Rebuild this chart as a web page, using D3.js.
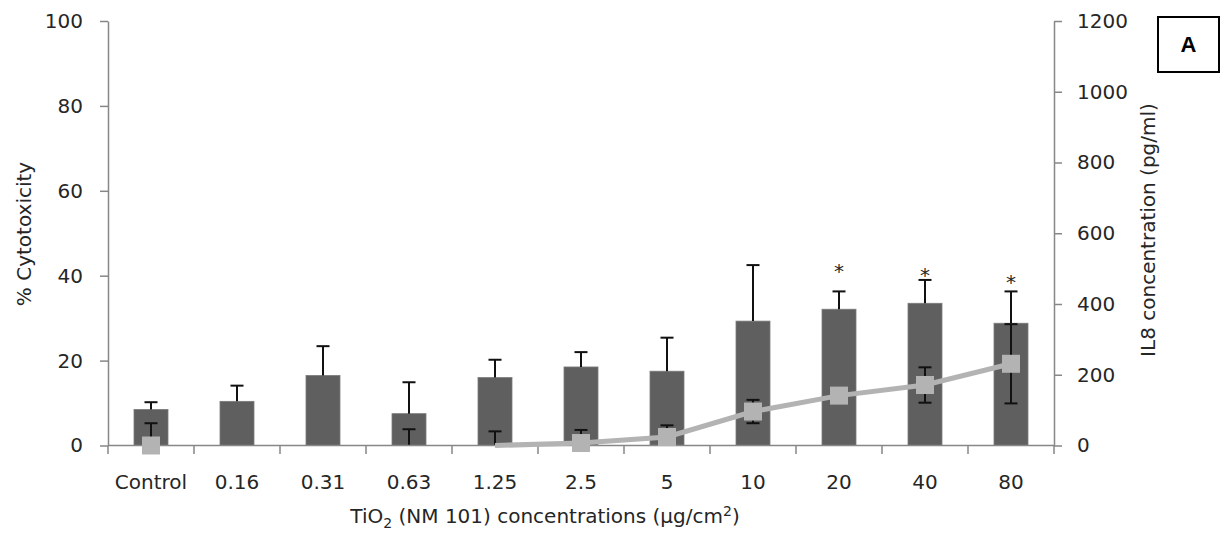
<!DOCTYPE html>
<html>
<head>
<meta charset="utf-8">
<script src="https://cdn.jsdelivr.net/npm/d3@7"></script>
<style>
  body { margin: 0; background: #fff; }
  text { font-family: "DejaVu Sans", Verdana, sans-serif; fill: #262626; }
</style>
</head>
<body>
<div id="chart"></div>
<script>
// categories (x axis)
var categories = ["Control", "0.16", "0.31", "0.63", "1.25", "2.5", "5", "10", "20", "40", "80"];

// % cytotoxicity bars and their SD
var cytotox = [8.5, 10.4, 16.5, 7.5, 16.0, 18.5, 17.5, 29.3, 32.1, 33.5, 28.8];
var cytotoxErr = [1.7, 3.7, 6.9, 7.4, 4.2, 3.5, 7.9, 13.2, 4.2, 5.5, 7.5];

// IL8 concentration (pg/ml) line, SD, and which points show a marker
var il8 = [0, null, null, null, 0, 7, 24, 96, 141, 171, 231];
var il8Err = [63, null, null, 46, 40, 37, 33, 33, 12, 50, 112];
var il8Marker = [true, false, false, false, false, true, true, true, true, true, true];

// significance stars (level in % cytotoxicity units)
var stars = [null, null, null, null, null, null, null, null, 42.2, 41.3, 39.6];

var leftTicks = [0, 20, 40, 60, 80, 100];
var rightTicks = [0, 200, 400, 600, 800, 1000, 1200];

var width = 1223, height = 540;
var plot = {left: 108, right: 1054, top: 21, bottom: 445.5};

var svg = d3.select("#chart")
  .append("svg")
  .attr("width", width)
  .attr("height", height);

var x = d3.scaleBand()
  .domain(categories)
  .range([plot.left, plot.right]);

var y = d3.scaleLinear()
  .domain([0, 100])
  .range([plot.bottom, plot.top]);

var y2 = d3.scaleLinear()
  .domain([0, 1200])
  .range([plot.bottom, plot.top]);

var barW = 34;
var axisColor = "#878787";

// bars
svg.append("g").selectAll("rect")
  .data(categories)
  .enter().append("rect")
  .attr("x", d => x(d) + x.bandwidth() / 2 - barW / 2)
  .attr("y", (d, i) => y(cytotox[i]))
  .attr("width", barW)
  .attr("height", (d, i) => y(0) - y(cytotox[i]))
  .style("fill", "#5f5f5f")
  .style("stroke", "#7a7a7a")
  .style("stroke-width", 0.8);

// bar error bars (upper only)
var eb = svg.append("g").style("stroke", "#111").style("stroke-width", 2);
categories.forEach(function(c, i) {
  var cx = x(c) + x.bandwidth() / 2;
  var top = y(cytotox[i] + cytotoxErr[i]);
  eb.append("line").attr("x1", cx).attr("x2", cx).attr("y1", y(cytotox[i])).attr("y2", top);
  eb.append("line").attr("x1", cx - 6.5).attr("x2", cx + 6.5).attr("y1", top).attr("y2", top);
});

// IL8 error bars
var eb2 = svg.append("g").style("stroke", "#111").style("stroke-width", 2);
categories.forEach(function(c, i) {
  if (il8Err[i] == null) return;
  var v = il8[i] == null ? 0 : il8[i];
  var cx = x(c) + x.bandwidth() / 2;
  var top = y2(v + il8Err[i]);
  var bot = y2(Math.max(0, v - il8Err[i]));
  eb2.append("line").attr("x1", cx).attr("x2", cx).attr("y1", bot).attr("y2", top);
  eb2.append("line").attr("x1", cx - 6.5).attr("x2", cx + 6.5).attr("y1", top).attr("y2", top);
  if (v - il8Err[i] > 0)
    eb2.append("line").attr("x1", cx - 6.5).attr("x2", cx + 6.5).attr("y1", bot).attr("y2", bot);
});

// axes
var yAxis = svg.append("g")
  .attr("transform", "translate(" + plot.left + ",0)")
  .call(d3.axisLeft(y).tickValues(leftTicks).tickSize(8).tickSizeOuter(0).tickPadding(17));

var yAxis2 = svg.append("g")
  .attr("transform", "translate(" + plot.right + ",0)")
  .call(d3.axisRight(y2).tickValues(rightTicks).tickFormat(d3.format("d"))
    .tickSize(8).tickSizeOuter(0).tickPadding(15));

var xAxis = svg.append("g")
  .attr("transform", "translate(0," + plot.bottom + ")")
  .call(d3.axisBottom(x).tickSize(0).tickSizeOuter(0).tickPadding(29));

// x boundary tick marks
svg.append("g").selectAll("line")
  .data(categories.concat(["end"]))
  .enter().append("line")
  .attr("x1", (d, i) => i < categories.length ? x(d) : plot.right)
  .attr("x2", (d, i) => i < categories.length ? x(d) : plot.right)
  .attr("y1", plot.bottom)
  .attr("y2", plot.bottom + 8.5)
  .style("stroke", axisColor)
  .style("stroke-width", 1.5);

[yAxis, yAxis2, xAxis].forEach(function(a) {
  a.selectAll(".domain").style("stroke", axisColor).style("stroke-width", 1.5);
  a.selectAll(".tick line").style("stroke", axisColor).style("stroke-width", 1.5);
  a.selectAll("text")
    .style("font-family", "'DejaVu Sans', Verdana, sans-serif")
    .style("font-size", "20px")
    .style("fill", "#262626");
});
xAxis.select(".domain").attr("d", "M" + plot.left + ",0H" + plot.right);

// IL8 line
var line = d3.line()
  .defined(d => d.v != null)
  .x(d => x(d.c) + x.bandwidth() / 2)
  .y(d => y2(d.v));

var il8Data = categories.map((c, i) => ({c: c, v: il8[i], m: il8Marker[i]}));
svg.append("path")
  .datum(il8Data)
  .attr("d", line)
  .style("fill", "none")
  .style("stroke", "#b3b3b3")
  .style("stroke-width", 5);

svg.append("g").selectAll("rect")
  .data(il8Data.filter(d => d.v != null && d.m))
  .enter().append("rect")
  .attr("x", d => x(d.c) + x.bandwidth() / 2 - 9)
  .attr("y", d => y2(d.v) - 9)
  .attr("width", 18)
  .attr("height", 18)
  .style("fill", "#b3b3b3");

// stars
svg.append("g").selectAll("text")
  .data(categories.map((c, i) => ({c: c, s: stars[i]})).filter(d => d.s != null))
  .enter().append("text")
  .attr("x", d => x(d.c) + x.bandwidth() / 2)
  .attr("y", d => y(d.s) + 12)
  .attr("text-anchor", "middle")
  .style("font-size", "20px")
  .text("*");

// axis titles
svg.append("text")
  .attr("transform", "translate(31,234) rotate(-90)")
  .attr("text-anchor", "middle")
  .style("font-size", "20px")
  .text("% Cytotoxicity");

svg.append("text")
  .attr("transform", "translate(1155,230) rotate(-90)")
  .attr("text-anchor", "middle")
  .style("font-size", "20px")
  .text("IL8 concentration (pg/ml)");

var xt = svg.append("text")
  .attr("x", 545)
  .attr("y", 523)
  .attr("text-anchor", "middle")
  .style("font-size", "20px");
xt.append("tspan").text("TiO");
xt.append("tspan").attr("dy", 5).style("font-size", "14px").text("2");
xt.append("tspan").attr("dy", -5).text(" (NM 101) concentrations (\u00b5g/cm");
xt.append("tspan").attr("dy", -7).style("font-size", "14px").text("2");
xt.append("tspan").attr("dy", 7).text(")");

// panel label
svg.append("rect")
  .attr("x", 1158).attr("y", 17)
  .attr("width", 61).attr("height", 55)
  .style("fill", "#fff")
  .style("stroke", "#000")
  .style("stroke-width", 2);
svg.append("text")
  .attr("x", 1188.5).attr("y", 52)
  .attr("text-anchor", "middle")
  .style("font-family", "'Liberation Sans', Arial, sans-serif")
  .style("font-weight", "bold")
  .style("font-size", "22px")
  .style("fill", "#000")
  .text("A");
</script>
</body>
</html>
